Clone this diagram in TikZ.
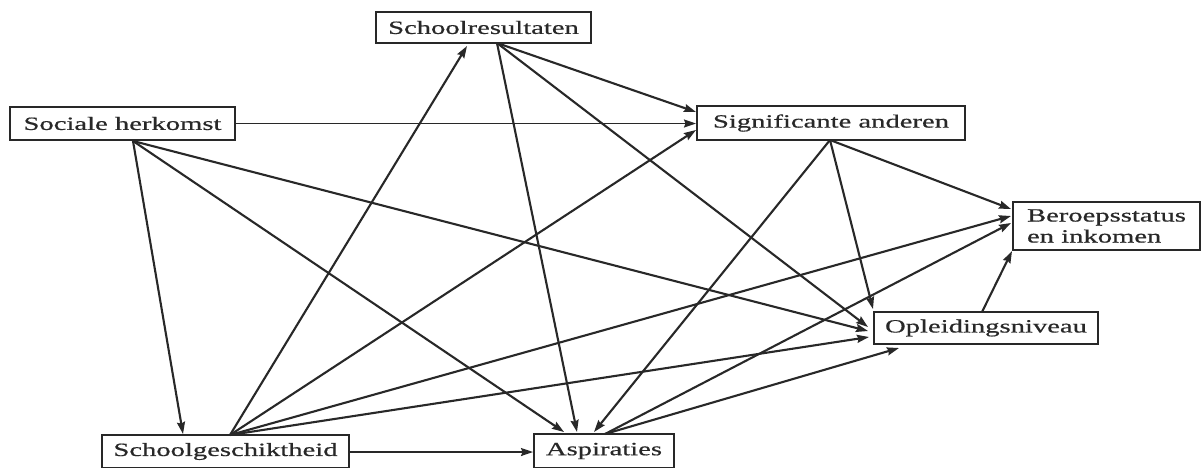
\documentclass[tikz,border=0pt]{standalone}
\usepackage{fontspec}
\setmainfont[FakeStretch=1.53,FakeBold=0.6]{Liberation Serif}
\usetikzlibrary{arrows.meta}
\definecolor{ink}{RGB}{40,40,40}
\begin{document}
\begin{tikzpicture}[x=1pt,y=-1pt,
  box/.style={draw=ink,line width=2.2pt,inner sep=0pt,text=ink,
    font=\fontsize{18.7}{21}\selectfont},
  link/.style={draw=ink,line width=2.1pt,
    -{Stealth[length=12pt,width=8pt,inset=1.5pt]}},
  flat/.style={link,line width=1.5pt}]
\useasboundingbox[fill=white] (0,0) rectangle (1202,467);

% variables
\node[box,minimum width=225pt,minimum height=33pt] (sh) at (122.5,123.5) {Sociale herkomst};
\node[box,minimum width=215pt,minimum height=31pt] (sr) at (483.5,27.5) {Schoolresultaten};
\node[box,minimum width=268pt,minimum height=34pt] (sa) at (831,123) {Significante anderen};
\node[box,minimum width=187pt,minimum height=48pt,align=left] (bi) at (1106.5,226) {Beroepsstatus\\en inkomen};
\node[box,minimum width=224pt,minimum height=32pt] (op) at (986,328) {Opleidingsniveau};
\node[box,minimum width=247pt,minimum height=33pt] (sg) at (225.5,451.5) {Schoolgeschiktheid};
\node[box,minimum width=140pt,minimum height=34pt] (as) at (604,451) {Aspiraties};

% ports where the arrows leave and arrive
\coordinate (sh-r)  at (sh.east);
\coordinate (sh-b)  at (133,141);
\coordinate (sr-b)  at (497,43);
\coordinate (sr-in) at (467,46);
\coordinate (sa-b)  at (830,140);
\coordinate (sa-in1) at (696,112);
\coordinate (sa-in2) at (696,123.5);
\coordinate (sa-in3) at (696,130);
\coordinate (bi-in1) at (1011,209);
\coordinate (bi-in2) at (1011,216);
\coordinate (bi-in3) at (1011,223);
\coordinate (bi-in4) at (1012,251);
\coordinate (op-t)  at (982,312);
\coordinate (op-in1) at (873,309);
\coordinate (op-in2) at (868,327);
\coordinate (op-in3) at (868,331);
\coordinate (op-in4) at (869,337);
\coordinate (op-in5) at (899,348);
\coordinate (sg-t)  at (230,435);
\coordinate (sg-in) at (183,434);
\coordinate (sg-r)  at (349,452);
\coordinate (as-t)  at (605,434);
\coordinate (as-l)  at (533,452);
\coordinate (as-in1) at (564,432);
\coordinate (as-in2) at (577,432);
\coordinate (as-in3) at (594,432);

% from Sociale herkomst
\draw[flat] (sh-r) -- (sa-in2);
\draw[link] (sh-b) -- (sg-in);
\draw[link] (sh-b) -- (as-in1);
\draw[link] (sh-b) -- (op-in3);
% from Schoolresultaten
\draw[link] (sr-b) -- (sa-in1);
\draw[link] (sr-b) -- (as-in2);
\draw[link] (sr-b) -- (op-in2);
% from Significante anderen
\draw[link] (sa-b) -- (bi-in1);
\draw[link] (sa-b) -- (op-in1);
\draw[link] (sa-b) -- (as-in3);
% from Schoolgeschiktheid
\draw[link] (sg-t) -- (sr-in);
\draw[link] (sg-t) -- (sa-in3);
\draw[link] (sg-t) -- (bi-in2);
\draw[link] (sg-t) -- (op-in4);
\draw[flat] (sg-r) -- (as-l);
% from Aspiraties
\draw[link] (as-t) -- (bi-in3);
\draw[link] (as-t) -- (op-in5);
% from Opleidingsniveau
\draw[link] (op-t) -- (bi-in4);
\end{tikzpicture}
\end{document}
